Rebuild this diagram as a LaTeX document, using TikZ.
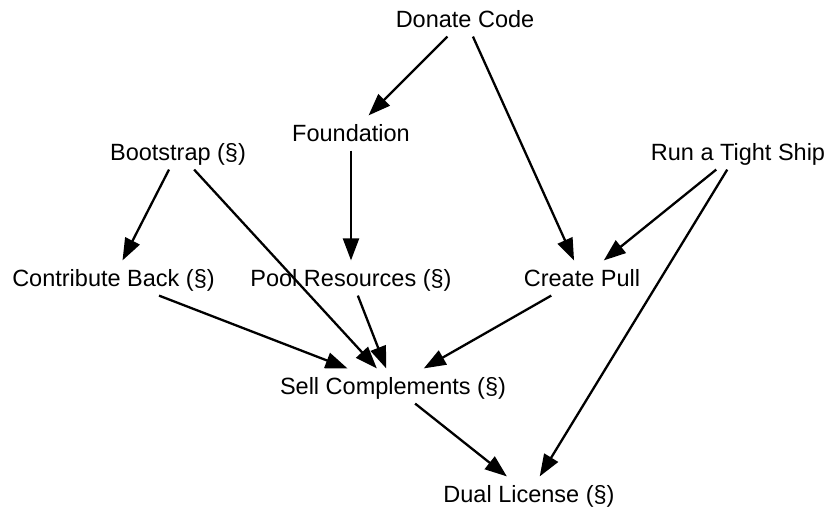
\documentclass[tikz,border=0pt]{standalone}
\usepackage{fontspec}
\setmainfont{Liberation Sans}
\usetikzlibrary{arrows.meta}
\begin{document}
\begin{tikzpicture}[x=1pt,y=-1pt,
		lbl/.style={font=\fontsize{23.5}{28}\selectfont, text height=16.8pt, text depth=0pt, inner xsep=4pt, inner ysep=9pt},
		edge/.style={-{Triangle[length=22pt,width=16pt]}, line width=2.3pt}]
			\useasboundingbox (0,0) rectangle (826,511);
			
			% patterns
			\node[lbl] (donate) at (465,19) {Donate Code};
			\node[lbl] (found) at (351,133) {Foundation};
			\node[lbl] (boot) at (178,152) {Bootstrap (§)};
			\node[lbl] (tight) at (738,152) {Run a Tight Ship};
			\node[lbl] (contrib) at (113.5,278) {Contribute Back (§)};
			\node[lbl] (pool) at (351,278) {Pool Resources (§)};
			\node[lbl] (pull) at (582,278) {Create Pull};
			\node[lbl] (sell) at (393,386) {Sell Complements (§)};
			\node[lbl] (dual) at (529,494) {Dual License (§)};
			
			% relations
			\draw[edge] (donate) -- (found);
			\draw[edge] (donate) -- (pull);
			\draw[edge] (found) -- (pool);
			\draw[edge] (boot) -- (contrib);
			\draw[edge] (boot) -- (sell);
			\draw[edge] (tight) -- (pull);
			\draw[edge] (tight) -- (dual);
			\draw[edge] (contrib) -- (sell);
			\draw[edge] (pool) -- (sell);
			\draw[edge] (pull) -- (sell);
			\draw[edge] (sell) -- (dual);
		\end{tikzpicture}
\end{document}
